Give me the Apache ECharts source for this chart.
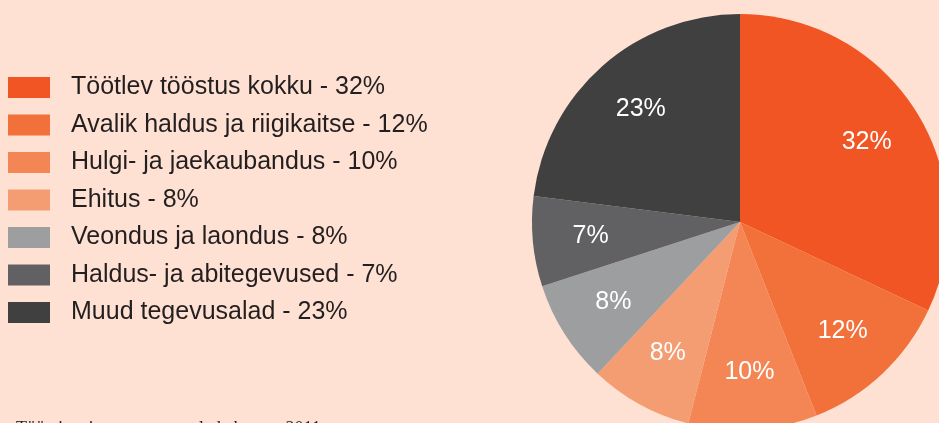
<!DOCTYPE html>
<html>
<head>
<meta charset="utf-8">
<script src="https://cdn.jsdelivr.net/npm/echarts@6/dist/echarts.min.js"></script>
<style>
html, body { margin: 0; padding: 0; background: #fee1d3; }
#chart { width: 939px; height: 423px; }
</style>
</head>
<body>
<div id="chart"></div>
<script>
// Tegevusalade jaotus
var categories = ['Töötlev tööstus kokku', 'Avalik haldus ja riigikaitse', 'Hulgi- ja jaekaubandus', 'Ehitus', 'Veondus ja laondus', 'Haldus- ja abitegevused', 'Muud tegevusalad'];
var values = [32, 12, 10, 8, 8, 7, 23];
var colors = ['#f15524', '#f2703a', '#f48655', '#f59d72', '#9d9ea0', '#616163', '#404040'];

var myChart = echarts.init(document.getElementById('chart'));

var pieData = categories.map(function (name, i) {
    return { name: name, value: values[i], itemStyle: { color: colors[i] } };
});
var labelData = categories.map(function (name, i) {
    return { name: name, value: values[i] };
});

var option = {
    backgroundColor: '#fee1d3',
    animation: false,
    color: colors,
    legend: {
        orient: 'vertical',
        left: 3,
        top: 70,
        icon: 'rect',
        itemWidth: 42,
        itemHeight: 21,
        itemGap: 12.5,
        selectedMode: false,
        data: categories,
        formatter: function (name) {
            var i = categories.indexOf(name);
            return name + ' - ' + values[i] + '%';
        },
        textStyle: {
            fontFamily: 'Liberation Sans, Arial, sans-serif',
            fontSize: 25,
            color: '#231f20',
            padding: [0, 0, 0, 16]
        }
    },
    graphic: [{
        type: 'text',
        left: 16,
        top: 420,
        style: {
            text: 'Töötajate jaotus tegevusalade kaupa, 2011',
            font: '18px "Liberation Serif", serif',
            fill: '#231f20'
        }
    }],
    series: [
        {
            name: 'Tegevusalad',
            type: 'pie',
            center: [740, 222],
            radius: [0, 208],
            startAngle: 90,
            clockwise: true,
            silent: true,
            label: { show: false },
            labelLine: { show: false },
            data: pieData
        },
        {
            name: 'Sildid',
            type: 'pie',
            center: [740, 222],
            radius: [86, 208],
            startAngle: 90,
            clockwise: true,
            silent: true,
            itemStyle: { color: 'rgba(0,0,0,0)' },
            label: {
                show: true,
                position: 'inside',
                formatter: '{c}%',
                color: '#ffffff',
                fontFamily: 'Liberation Sans, Arial, sans-serif',
                fontSize: 25
            },
            labelLine: { show: false },
            data: labelData
        }
    ]
};

myChart.setOption(option, true);
</script>
</body>
</html>
